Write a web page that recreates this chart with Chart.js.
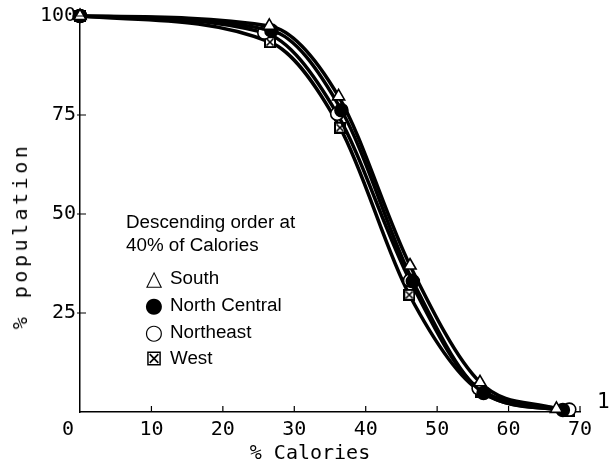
<!DOCTYPE html>
<html>
<head>
<meta charset="utf-8">
<script src="https://cdn.jsdelivr.net/npm/chart.js@4.4.1/dist/chart.umd.min.js"></script>
<style>
  html, body { margin: 0; padding: 0; background: #fff; }
  #wrap { position: relative; width: 611px; height: 469px; }
  #chart { position: absolute; left: 0; top: 0; }
  .mono { position: absolute; font-family: "DejaVu Sans Mono", monospace; color: #000; white-space: nowrap; }
  #ytitle { left: 20px; top: 236px; font-size: 20px; letter-spacing: 3.5px; transform: translate(-50%, -50%) rotate(-90deg); }
  #xtitle { left: 310px; top: 452px; font-size: 20px; transform: translate(-50%, -50%); }
  #one { left: 597px; top: 389px; font-size: 21px; }
  #legend { position: absolute; left: 126px; top: 210px; font-family: "Liberation Sans", Arial, sans-serif; font-size: 18.8px; color: #000; line-height: 23px; }
  #legend .item { position: relative; padding-left: 44px; height: 26.8px; line-height: 26.8px; }
  #legend .sym { position: absolute; left: 17px; top: 0; width: 22px; text-align: center; font-family: "DejaVu Sans", sans-serif; font-size: 21px; }
  #legend .first { margin-top: 9px; }
</style>
</head>
<body>
<div id="wrap">
  <canvas id="chart" width="611" height="469"></canvas>
  <div class="mono" id="ytitle">% population</div>
  <div class="mono" id="xtitle">% Calories</div>
  <div class="mono" id="one">1</div>
  <div id="legend">
    <div>Descending order at</div>
    <div>40% of Calories</div>
    <div class="item first"><span class="sym">△</span>South</div>
    <div class="item"><span class="sym">●</span>North Central</div>
    <div class="item"><span class="sym">○</span>Northeast</div>
    <div class="item"><span class="sym">⊠</span>West</div>
  </div>
</div>
<script>
// values (% calories -> % population)
const southX = [0, 26.5, 36.2, 46.2, 56.0, 66.7];
const southY = [100, 97.5, 79.7, 37.0, 7.5, 0.8];

const northCentralX = [0, 26.8, 36.6, 46.6, 56.5, 67.6];
const northCentralY = [100, 96.3, 76.2, 33.0, 4.8, 0.5];

const northeastX = [0, 25.8, 36.0, 46.2, 55.8, 68.5];
const northeastY = [100, 95.8, 75.3, 33.2, 6.0, 0.6];

const westX = [0, 26.6, 36.4, 46.1, 56.2, 68.4];
const westY = [100, 93.4, 71.8, 29.6, 5.0, 0.3];

const xTicks = [0, 10, 20, 30, 40, 50, 60, 70];
const yTicks = [25, 50, 75, 100];

function toPoints(xs, ys) {
    return xs.map((x, i) => ({ x: x, y: ys[i] }));
}

// boxed x marker for West
function boxedX(size) {
    const c = document.createElement('canvas');
    c.width = size; c.height = size;
    const g = c.getContext('2d');
    g.fillStyle = '#fff';
    g.fillRect(0, 0, size, size);
    g.strokeStyle = '#000';
    g.lineWidth = 2;
    g.strokeRect(1, 1, size - 2, size - 2);
    g.lineWidth = 1.6;
    g.beginPath();
    g.moveTo(2.5, 2.5); g.lineTo(size - 2.5, size - 2.5);
    g.moveTo(size - 2.5, 2.5); g.lineTo(2.5, size - 2.5);
    g.stroke();
    return c;
}

// short tick marks drawn inward from the axes
const innerTicks = {
    id: 'innerTicks',
    afterDatasetsDraw(chart) {
        const ctx = chart.ctx;
        const xs = chart.scales.x, ys = chart.scales.y;
        const area = chart.chartArea;
        ctx.save();
        ctx.strokeStyle = '#000';
        ctx.lineWidth = 1.2;
        ctx.beginPath();
        xTicks.forEach(v => {
            if (v === 0) return;
            const px = xs.getPixelForValue(v);
            ctx.moveTo(px, area.bottom); ctx.lineTo(px, area.bottom - 6);
        });
        yTicks.forEach(v => {
            const py = ys.getPixelForValue(v);
            ctx.moveTo(area.left - 3, py); ctx.lineTo(area.left + 6, py);
        });
        ctx.stroke();
        ctx.restore();
    }
};

const common = {
    borderColor: '#000',
    borderWidth: 3.5,
    pointBorderColor: '#000',
    pointBorderWidth: 1.6,
    cubicInterpolationMode: 'monotone',
    clip: false
};

const datasets = [
    Object.assign({}, common, {
        label: 'South', data: toPoints(southX, southY),
        pointStyle: 'triangle', pointRadius: 7, pointBackgroundColor: '#fff'
    }),
    Object.assign({}, common, {
        label: 'North Central', data: toPoints(northCentralX, northCentralY),
        pointStyle: 'circle', pointRadius: 6.5, pointBackgroundColor: '#000'
    }),
    Object.assign({}, common, {
        label: 'Northeast', data: toPoints(northeastX, northeastY),
        pointStyle: 'circle', pointRadius: 6.5, pointBackgroundColor: '#fff'
    }),
    Object.assign({}, common, {
        label: 'West', data: toPoints(westX, westY),
        pointStyle: boxedX(12), pointRadius: 6, pointBackgroundColor: '#fff'
    })
];

const tickFont = { family: 'DejaVu Sans Mono', size: 20 };

new Chart(document.getElementById('chart').getContext('2d'), {
    type: 'line',
    data: { datasets: datasets },
    plugins: [innerTicks],
    options: {
        responsive: false,
        animation: false,
        layout: { padding: { left: 0, top: 15, right: 31, bottom: 0 } },
        plugins: { legend: { display: false }, tooltip: { enabled: false } },
        scales: {
            x: {
                type: 'linear', min: 0, max: 70,
                afterFit: s => { s.height = 57; },
                afterBuildTicks: s => { s.ticks = xTicks.map(v => ({ value: v })); },
                grid: { display: true, drawOnChartArea: false, drawTicks: false },
                border: { display: true, color: '#000', width: 1.5 },
                ticks: {
                    color: '#000', font: tickFont, padding: 6, maxRotation: 0,
                    callback: v => (v === 0 ? '0  ' : String(v))
                }
            },
            y: {
                type: 'linear', min: 0, max: 100,
                afterFit: s => { s.width = 80; },
                afterBuildTicks: s => { s.ticks = yTicks.map(v => ({ value: v })); },
                grid: { display: true, drawOnChartArea: false, drawTicks: false },
                border: { display: true, color: '#000', width: 1.5 },
                ticks: { color: '#000', font: tickFont, padding: 4 }
            }
        }
    }
});
</script>
</body>
</html>
